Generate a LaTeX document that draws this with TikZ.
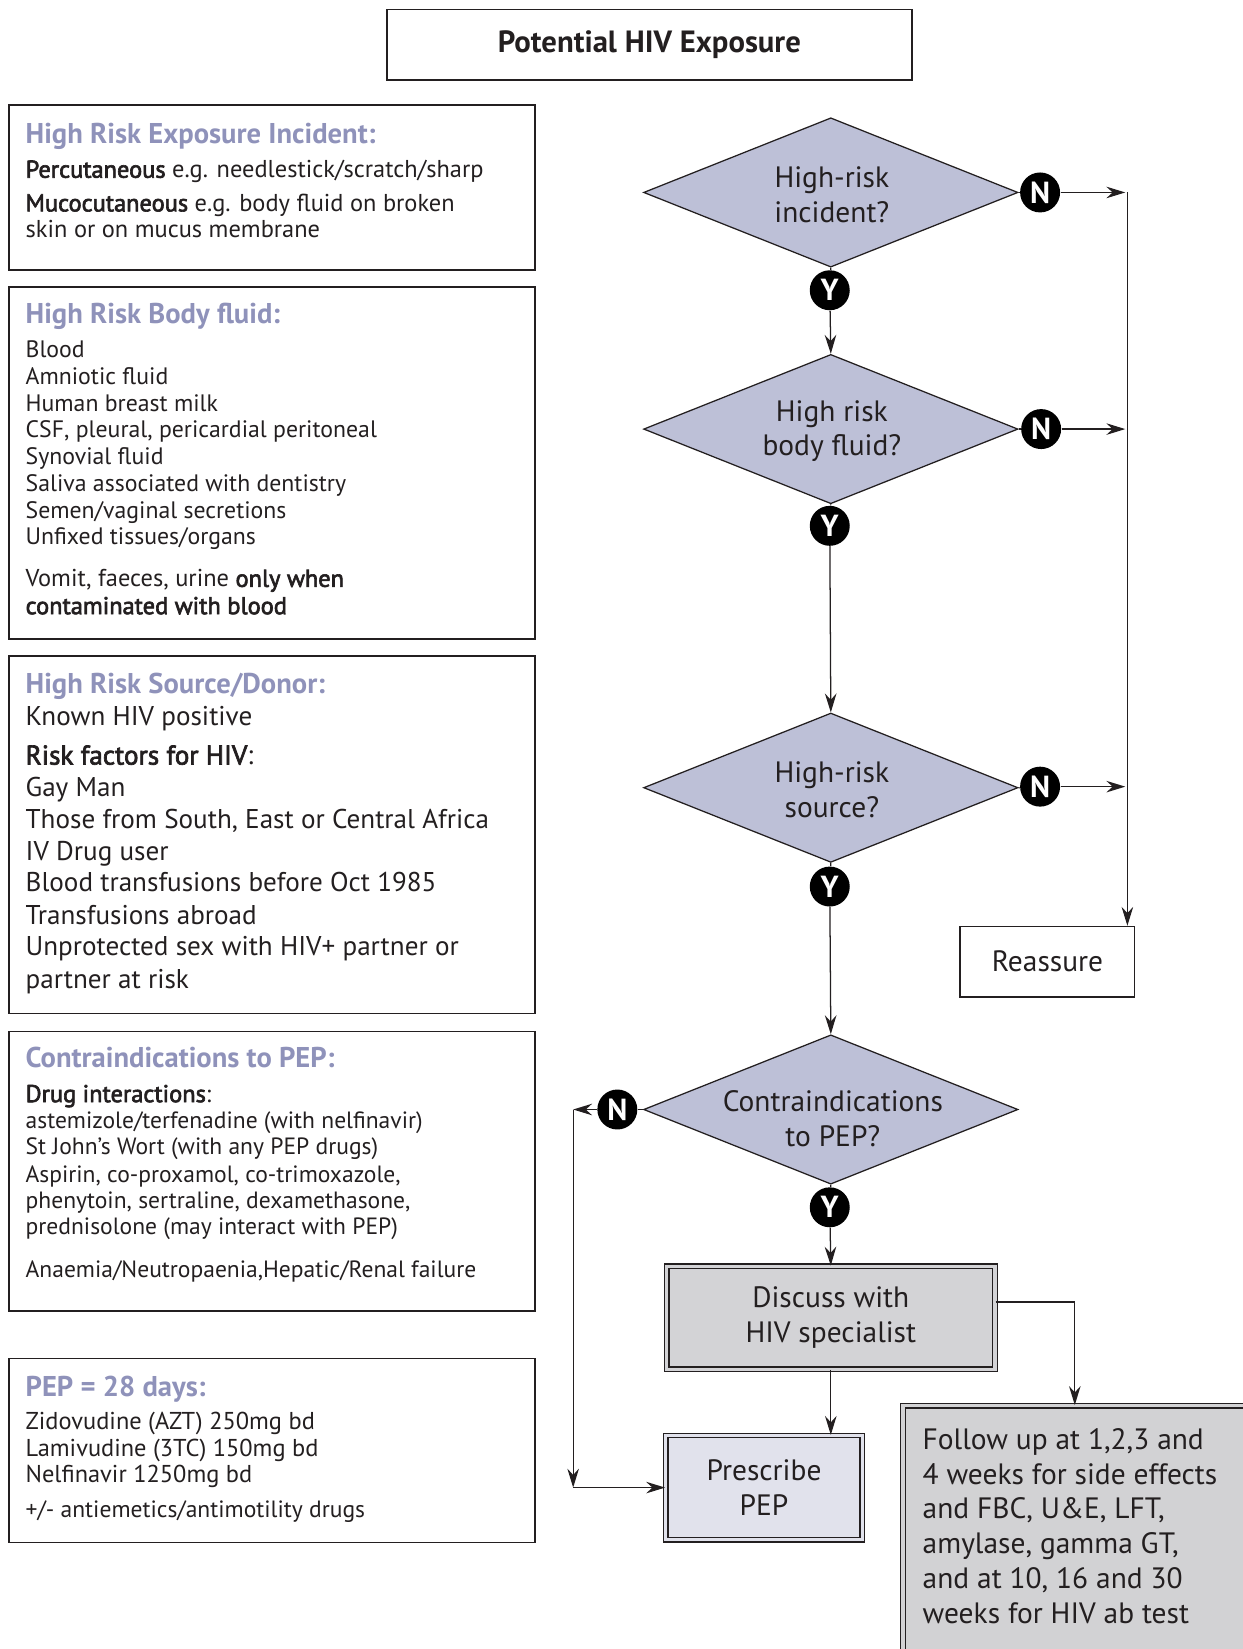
\documentclass[tikz,border=0pt]{standalone}
\usepackage{fontspec}
\setmainfont{PT Sans}
\setsansfont{PT Sans}
\newfontfamily\medfont[FakeBold=2.6]{PT Sans}
\newcommand\md[1]{{\medfont #1}}
\usetikzlibrary{shapes.geometric,arrows.meta}
\definecolor{hdcol}{HTML}{8F92BA}
\definecolor{txtcol}{HTML}{231F20}
\definecolor{diafill}{HTML}{BDC0D7}
\definecolor{discfill}{HTML}{D3D3D6}
\definecolor{prescfill}{HTML}{E1E2EC}
\definecolor{fupfill}{HTML}{D2D2D4}
\begin{document}
\begin{tikzpicture}[x=0.5pt,y=-0.5pt,
  txt/.style={anchor=base west, inner sep=0pt, text=txtcol},
  hd/.style={anchor=base west, inner sep=0pt, text=hdcol, font=\fontsize{13.6}{15}\selectfont\bfseries},
  box/.style={draw=txtcol, line width=0.7pt, anchor=north west, inner sep=0pt},
  dia/.style={diamond, draw=txtcol, fill=diafill, line width=0.6pt, minimum width=178pt, minimum height=71pt, inner sep=0pt},
  dtxt/.style={align=center, inner sep=0pt, text=txtcol, font=\fontsize{14}{16.5}\selectfont},
  yn/.style={circle, fill=black, inner sep=0pt, minimum size=19pt, text=white, font=\fontsize{14.5}{14.5}\selectfont\bfseries},
  arr/.style={-{Stealth[length=9pt,width=5.5pt,inset=3pt]}, line width=0.6pt, draw=txtcol},
  ln/.style={line width=0.6pt, draw=txtcol},
  dbl/.style={draw=txtcol, double distance=1.6pt, line width=0.6pt, inner sep=0pt},
  fa/.style={font=\fontsize{11.6}{13}\selectfont},
  fb/.style={font=\fontsize{11.3}{13}\selectfont},
  fe/.style={font=\fontsize{11.6}{13}\selectfont},
  fc/.style={font=\fontsize{12.9}{14}\selectfont},
  fd/.style={font=\fontsize{11.2}{12}\selectfont}
]
\useasboundingbox (0,0) rectangle (1181,1568);

% title
\node[box, anchor=center, minimum width=249.5pt, minimum height=33.5pt, font=\fontsize{14.6}{17}\selectfont\bfseries, text=txtcol] (title) at (617.5,42.5) {Potential HIV Exposure};

% box 1
\node[box, minimum width=250pt, minimum height=78.5pt] (b1) at (8,99) {};
\node[hd] (b1h) at (24,136) {High Risk Exposure Incident:};
\node[txt,fa] (b1a) at (24,169) {\md{Percutaneous} e.g. needlestick/scratch/sharp};
\node[txt,fa] (b1b) at (24,201) {\md{Mucocutaneous} e.g. body fluid on broken};
\node[txt,fa] (b1c) at (24,226) {skin or on mucus membrane};

% box 2
\node[box, minimum width=250pt, minimum height=167.5pt] (b2) at (8,272) {};
\node[hd] (b2h) at (24,308) {High Risk Body fluid:};
\node[txt,fb] (b2a) at (24,340) {Blood};
\node[txt,fb] (b2b) at (24,366) {Amniotic fluid};
\node[txt,fb] (b2c) at (24,391) {Human breast milk};
\node[txt,fb] (b2d) at (24,416) {CSF, pleural, pericardial peritoneal};
\node[txt,fb] (b2e) at (24,442) {Synovial fluid};
\node[txt,fb] (b2f) at (24,467) {Saliva associated with dentistry};
\node[txt,fb] (b2g) at (24,493) {Semen/vaginal secretions};
\node[txt,fb] (b2i) at (24,518) {Unfixed tissues/organs};
\node[txt,fa] (b2j) at (24,558) {Vomit, faeces, urine \md{only when}};
\node[txt,fa] (b2k) at (24,584) {\md{contaminated with blood}};

% box 3
\node[box, minimum width=250pt, minimum height=170pt] (b3) at (8,623) {};
\node[hd] (b3h) at (24,659) {High Risk Source/Donor:};
\node[txt,fc] (b3a) at (24,690) {Known HIV positive};
\node[txt,fc] (b3b) at (24,727) {\md{Risk factors for HIV}:};
\node[txt,fc] (b3c) at (24,757) {Gay Man};
\node[txt,fc] (b3d) at (24,788) {Those from South, East or Central Africa};
\node[txt,fc] (b3e) at (24,818) {IV Drug user};
\node[txt,fc] (b3f) at (24,848) {Blood transfusions before Oct 1985};
\node[txt,fc] (b3g) at (24,879) {Transfusions abroad};
\node[txt,fc] (b3i) at (24,909) {Unprotected sex with HIV+ partner or};
\node[txt,fc] (b3j) at (24,940) {partner at risk};

% box 4
\node[box, minimum width=250pt, minimum height=133pt] (b4) at (8,980) {};
\node[hd] (b4h) at (24,1015) {Contraindications to PEP:};
\node[txt,fa] (b4a) at (24,1048) {\md{Drug interactions}:};
\node[txt,fd] (b4b) at (24,1073) {astemizole/terfenadine (with nelfinavir)};
\node[txt,fd] (b4c) at (24,1098) {St John’s Wort (with any PEP drugs)};
\node[txt,fd] (b4d) at (24,1124) {Aspirin, co-proxamol, co-trimoxazole,};
\node[txt,fd] (b4e) at (24,1149) {phenytoin, sertraline, dexamethasone,};
\node[txt,fd] (b4f) at (24,1174) {prednisolone (may interact with PEP)};
\node[txt,fd] (b4g) at (24,1215) {Anaemia/Neutropaenia,Hepatic/Renal failure};

% box 5
\node[box, minimum width=250pt, minimum height=87.5pt] (b5) at (8,1291) {};
\node[hd] (b5h) at (24,1328) {PEP = 28 days:};
\node[txt,fe] (b5a) at (24,1359) {Zidovudine (AZT) 250mg bd};
\node[txt,fe] (b5b) at (24,1385) {Lamivudine (3TC) 150mg bd};
\node[txt,fe] (b5c) at (24,1410) {Nelfinavir 1250mg bd};
\node[txt,fd] (b5d) at (24,1443) {+/- antiemetics/antimotility drugs};

% diamonds
\node[dia] (d1) at (790,183) {};
\node[dtxt] (d1t) at (791,185) {High-risk\\incident?};
\node[dia] (d2) at (790,408) {};
\node[dtxt] (d2t) at (791,410) {High risk\\body fluid?};
\node[dia] (d3) at (790,749) {};
\node[dtxt] (d3t) at (791,751) {High-risk\\source?};
\node[dia] (d4) at (790,1055) {};
\node[dtxt] (d4t) at (792,1064) {Contraindications\\to PEP?};

% Y / N markers
\node[yn] (y1) at (789,276) {Y};
\node[yn] (y2) at (789,500) {Y};
\node[yn] (y3) at (789,843) {Y};
\node[yn] (y4) at (789,1148) {Y};
\node[yn] (n1) at (989,183) {N};
\node[yn] (n2) at (990,408) {N};
\node[yn] (n3) at (989,748) {N};
\node[yn] (n4) at (587,1055) {N};

% outcome boxes
\node[box, anchor=center, minimum width=83pt, minimum height=33.5pt, font=\fontsize{14}{16}\selectfont, text=txtcol] (reas) at (996,914.5) {Reassure};
\node[dbl, fill=discfill, double=discfill, minimum width=156pt, minimum height=49pt, align=center, font=\fontsize{14}{16.5}\selectfont, text=txtcol] (disc) at (790,1253) {Discuss with\\HIV specialist};
\node[dbl, fill=prescfill, double=prescfill, minimum width=93.5pt, minimum height=49.5pt, align=center, font=\fontsize{14}{16.5}\selectfont, text=txtcol] (presc) at (726.5,1414.5) {Prescribe\\PEP};
\node[dbl, fill=fupfill, double=fupfill, anchor=north west, minimum width=180pt, minimum height=140pt] (fup) at (858,1336) {};
\node[anchor=north west, inner sep=0pt, align=left, font=\fontsize{14}{16.5}\selectfont, text=txtcol] (fupt) at (877,1358) {Follow up at 1,2,3 and\\4 weeks for side effects\\and FBC, U\&E, LFT,\\amylase, gamma GT,\\and at 10, 16 and 30\\weeks for HIV ab test};

% coordinates
\coordinate (c1) at (1072,183);
\coordinate (c2) at (1072,408);
\coordinate (c3) at (1072,748);
\coordinate (c4) at (545,1055);
\coordinate (c5) at (545,1414.5);
\coordinate (c6) at (1022,1238);

% connectors
\draw[ln] (d1.south) -- (y1);
\draw[arr] (y1) -- (d2.north);
\draw[ln] (d2.south) -- (y2);
\draw[arr] (y2) -- (d3.north);
\draw[ln] (d3.south) -- (y3);
\draw[arr] (y3) -- (d4.north);
\draw[ln] (d4.south) -- (y4);
\draw[arr] (y4) -- (disc.north);

\draw[ln] (d1.east) -- (n1);
\draw[ln] (d2.east) -- (n2);
\draw[ln] (d3.east) -- (n3);
\draw[arr] (n1) -- ([xshift=-1pt]c1);
\draw[arr] (n2) -- ([xshift=-1pt]c2);
\draw[arr] (n3) -- ([xshift=-1pt]c3);
\draw[arr] (c1) -- (c1 |- reas.north);

\draw[ln] (d4.west) -- (n4);
\draw[arr] (n4) -- (c4);
\draw[arr] (c4) -- (c5);
\draw[arr] (c5) -- (presc.west);

\draw[arr] (disc.south) -- (presc.north -| disc.south);
\draw[ln] (disc.east |- c6) -- (c6);
\draw[arr] (c6) -- (c6 |- fup.north);
\end{tikzpicture}
\end{document}
